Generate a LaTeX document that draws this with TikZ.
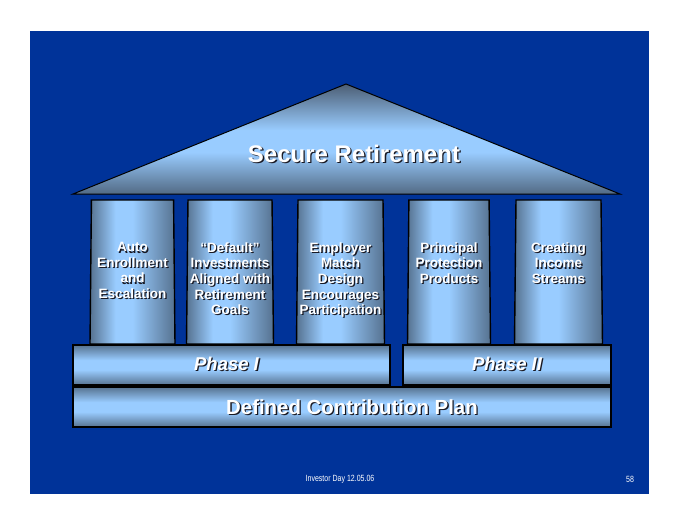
\documentclass[tikz,border=0pt]{standalone}
\usepackage{fontspec}
\setmainfont{Liberation Sans}
\newfontfamily\footfont[FakeStretch=0.78]{Liberation Sans}
\usetikzlibrary{shapes.geometric,positioning}

\definecolor{slideblue}{RGB}{0,51,153}
\definecolor{plight}{RGB}{153,204,255}
\definecolor{pdark}{RGB}{86,114,144}
\definecolor{rtop}{RGB}{76,94,116}
\definecolor{rbase}{RGB}{82,106,132}
\definecolor{txtshadow}{RGB}{25,25,35}

\pgfdeclarehorizontalshading{pillarshade}{100bp}{color(0bp)=(pdark); color(25bp)=(pdark); color(40bp)=(plight); color(50bp)=(plight); color(75bp)=(pdark); color(100bp)=(pdark)}
\pgfdeclareverticalshading{barshade}{100bp}{color(0bp)=(pdark); color(25bp)=(pdark); color(44bp)=(plight); color(56bp)=(plight); color(75bp)=(pdark); color(100bp)=(pdark)}
\pgfdeclareverticalshading{roofshade}{100bp}{color(0bp)=(rbase); color(25bp)=(rbase); color(44bp)=(plight); color(54bp)=(plight); color(75bp)=(rtop); color(100bp)=(rtop)}

% white text with a dark drop shadow
\newcommand{\shadowed}[4][]{%
  \node[#1, text=txtshadow, xshift=1.3pt, yshift=-1.3pt] at (#3) {#4};
  \node[#1] (#2) at (#3) {#4};}

\begin{document}
\begin{tikzpicture}[
    x=1pt, y=-1pt,
    every node/.style={text=white, inner sep=0pt, font=\bfseries},
    pillar/.style={draw=black, line width=1.4pt, trapezium, trapezium angle=89, trapezium stretches=true, inner sep=2pt, minimum height=144pt, shade, shading=pillarshade},
    bar/.style={draw=black, line width=1.4pt, rectangle, minimum height=40pt, shade, shading=barshade},
    pillartext/.style={align=center, anchor=north, font=\fontsize{13.5}{15.6}\selectfont\bfseries},
    phasetext/.style={font=\fontsize{18.5}{22}\selectfont\bfseries\itshape},
    basetext/.style={font=\fontsize{20.4}{24}\selectfont\bfseries},
    foot/.style={font=\footfont\fontsize{9}{10}\selectfont}
]
\fill[white] (0,0) rectangle (680,525);
\fill[slideblue] (30,31) rectangle (649,494);

% roof
\coordinate (roofleft) at (73,194);
\coordinate (apex) at (346,84);
\coordinate (roofright) at (620,194);
\shade[shading=roofshade, draw=black, line width=1pt] (roofleft) -- (apex) -- (roofright) -- cycle;
\shadowed[font=\fontsize{24}{28}\selectfont\bfseries]{title}{354,154}{Secure Retirement}

% pillars
\node[pillar, minimum width=85pt] (autoenrol) at (132.5,272) {};
\node[pillar, minimum width=87pt] (default) at (230,272) {};
\node[pillar, minimum width=88pt] (match) at (340.5,272) {};
\node[pillar, minimum width=83pt] (protect) at (449,272) {};
\node[pillar, minimum width=88pt] (income) at (558.5,272) {};

\shadowed[pillartext]{autoenroltext}{[yshift=-43pt]autoenrol.north}{Auto\\Enrollment\\and\\Escalation}
\shadowed[pillartext]{defaulttext}{[yshift=-43pt]default.north}{“Default”\\Investments\\Aligned with\\Retirement\\Goals}
\shadowed[pillartext]{matchtext}{[yshift=-43pt]match.north}{Employer\\Match\\Design\\Encourages\\Participation}
\shadowed[pillartext]{protecttext}{[yshift=-43pt]protect.north}{Principal\\Protection\\Products}
\shadowed[pillartext]{incometext}{[yshift=-43pt]income.north}{Creating\\Income\\Streams}

% base
\node[bar, minimum width=317pt] (phase1) at (231.5,365) {};
\node[bar, minimum width=208pt] (phase2) at (507,365) {};
\node[bar, minimum width=538pt] (dcplan) at (342,407) {};
\shadowed[phasetext]{phase1text}{[xshift=-5pt,yshift=1pt]phase1.center}{Phase I}
\shadowed[phasetext]{phase2text}{[yshift=1pt]phase2.center}{Phase II}
\shadowed[basetext]{dcplantext}{[xshift=10pt]dcplan.center}{Defined Contribution Plan}

% footer
\node[foot] (footer) at (340,479) {Investor Day 12.05.06};
\node[foot] (pagenum) at (630,479) {58};
\end{tikzpicture}
\end{document}
